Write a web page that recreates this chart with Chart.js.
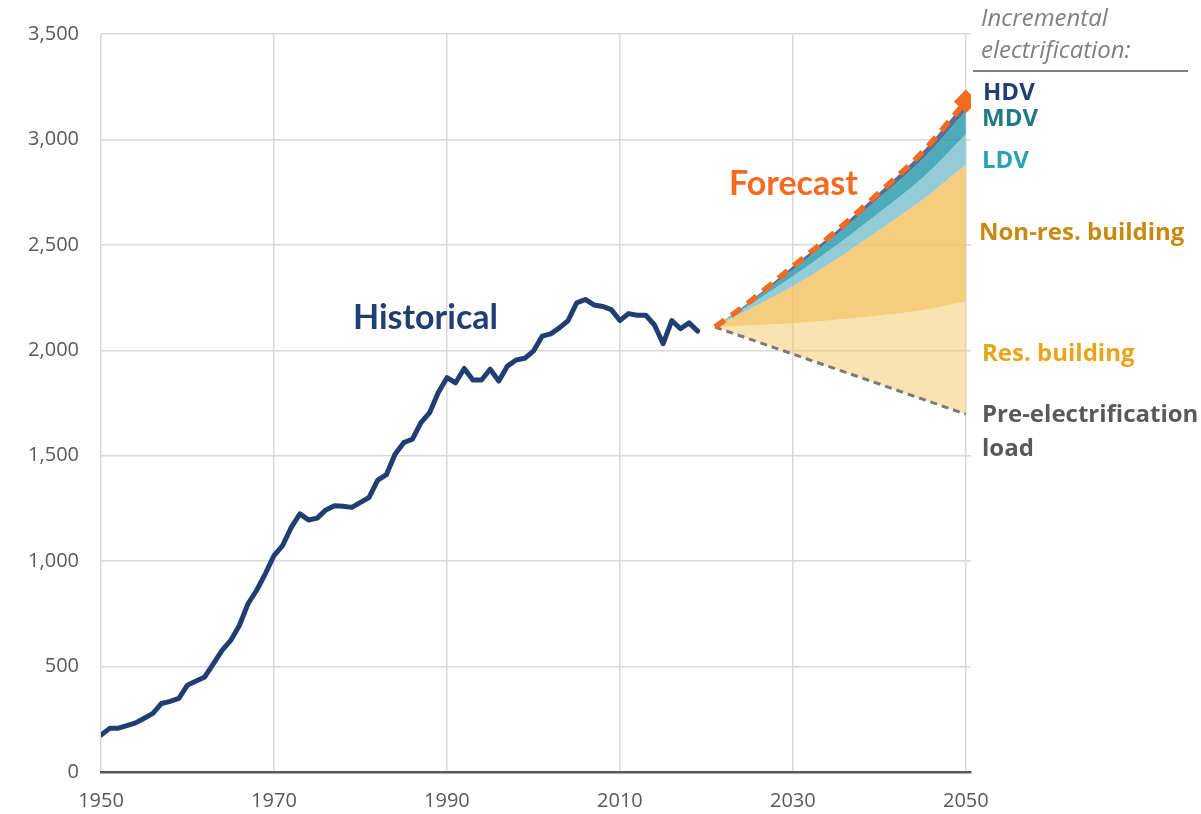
<!DOCTYPE html>
<html>
<head>
<meta charset="utf-8">
<title>Load forecast</title>
<script src="https://cdn.jsdelivr.net/npm/chart.js@4.4.1/dist/chart.umd.min.js"></script>
<style>
  html, body { margin: 0; padding: 0; background: #fff; }
  #wrap { width: 1201px; height: 814px; }
</style>
</head>
<body>
<div id="wrap"><canvas id="loadChart" width="1201" height="814"></canvas></div>
<script>
// --- datos ---

const histYears = [
  1950, 1951, 1952, 1953, 1954, 1955, 1956, 1957, 1958, 1959,
  1960, 1961, 1962, 1963, 1964, 1965, 1966, 1967, 1968, 1969,
  1970, 1971, 1972, 1973, 1974, 1975, 1976, 1977, 1978, 1979,
  1980, 1981, 1982, 1983, 1984, 1985, 1986, 1987, 1988, 1989,
  1990, 1991, 1992, 1993, 1994, 1995, 1996, 1997, 1998, 1999,
  2000, 2001, 2002, 2003, 2004, 2005, 2006, 2007, 2008, 2009,
  2010, 2011, 2012, 2013, 2014, 2015, 2016, 2017, 2018, 2019
];
const historical = [
  175, 207, 208, 220, 233, 255, 278, 325, 335, 349,
  412, 432, 451, 514, 577, 624, 695, 798, 862, 940,
  1026, 1074, 1160, 1224, 1195, 1204, 1243, 1263, 1260, 1255,
  1279, 1302, 1384, 1410, 1507, 1562, 1578, 1657, 1704, 1800,
  1870, 1846, 1914, 1859, 1859, 1910, 1854, 1925, 1954, 1962,
  1996, 2067, 2078, 2106, 2140, 2225, 2241, 2215, 2208, 2193,
  2141, 2174, 2166, 2166, 2120, 2031, 2141, 2102, 2130, 2091
];

// forecast: base + incrementos apilados
const fcYears = [2021, 2025, 2030, 2035, 2040, 2045, 2050];
const preElectrification = [2110, 2053, 1982, 1911, 1840, 1768, 1697];
const resBuilding = [0, 65, 145, 234, 325, 422, 536];
const nonResBuilding = [0, 77, 177, 285, 406, 525, 647];
const ldv = [0, 20, 47, 67, 82, 103, 145];
const mdv = [0, 10, 31, 48, 70, 88, 110];
const hdv = [0, 5, 16, 20, 25, 35, 45];

const xTicks = [1950, 1970, 1990, 2010, 2030, 2050];
const yTicks = [0, 500, 1000, 1500, 2000, 2500, 3000, 3500];

// --- helpers ---

const toPoints = (xs, ys) => xs.map((x, i) => ({ x: x, y: ys[i] }));

// suma acumulada de las capas
const addLayers = (...layers) => layers[0].map((_, i) => layers.reduce((s, l) => s + l[i], 0));

const resTop = addLayers(preElectrification, resBuilding);
const nonResTop = addLayers(resTop, nonResBuilding);
const ldvTop = addLayers(nonResTop, ldv);
const mdvTop = addLayers(ldvTop, mdv);
const totalLoad = addLayers(mdvTop, hdv);

// textos del gráfico
const chartLabels = [
  { text: 'Historical', x: 353, y: 318, color: '#1f3f73', font: 'bold 34px Lato' },
  { text: 'Forecast', x: 729, y: 184, color: '#f26b21', font: 'bold 34px Lato' },
  { text: 'Incremental', x: 981, y: 19, color: '#808080', font: 'italic 24px "Open Sans"' },
  { text: 'electrification:', x: 981, y: 51, color: '#808080', font: 'italic 24px "Open Sans"' },
  { text: 'HDV', x: 983, y: 93, color: '#1f3f73', font: 'bold 24px "Open Sans"' },
  { text: 'MDV', x: 982, y: 119, color: '#1e7a84', font: 'bold 24px "Open Sans"' },
  { text: 'LDV', x: 982, y: 161, color: '#2aa1b6', font: 'bold 24px "Open Sans"' },
  { text: 'Non-res. building', x: 979, y: 233, color: '#c8890e', font: 'bold 24px "Open Sans"' },
  { text: 'Res. building', x: 982, y: 354, color: '#e8a41a', font: 'bold 24px "Open Sans"' },
  { text: 'Pre-electrification', x: 982, y: 415, color: '#595959', font: 'bold 24px "Open Sans"' },
  { text: 'load', x: 982, y: 449, color: '#595959', font: 'bold 24px "Open Sans"' }
];

const textPlugin = {
  id: 'chartText',
  afterDraw(chart) {
    const ctx = chart.ctx;
    ctx.save();
    ctx.textBaseline = 'middle';
    ctx.textAlign = 'left';
    chartLabels.forEach(l => {
      ctx.font = l.font;
      ctx.fillStyle = l.color;
      ctx.fillText(l.text, l.x, l.y);
    });
    // línea bajo "Incremental electrification:"
    ctx.strokeStyle = '#7f7f7f';
    ctx.lineWidth = 2;
    ctx.beginPath();
    ctx.moveTo(973, 71);
    ctx.lineTo(1188, 71);
    ctx.stroke();
    ctx.restore();
  }
};

const bandLine = (data, fillTarget, color) => ({
  data: data,
  borderWidth: 0,
  pointRadius: 0,
  backgroundColor: color,
  fill: { target: fillTarget },
  cubicInterpolationMode: 'monotone'
});

const lastOnly = (n, r) => fcYears.map((_, i) => i === n - 1 ? r : 0);

new Chart(document.getElementById('loadChart'), {
  type: 'line',
  data: {
    datasets: [
      { // 0 historical
        data: toPoints(histYears, historical),
        borderColor: '#1f3f73',
        borderWidth: 5,
        borderJoinStyle: 'round',
        borderCapStyle: 'round',
        pointRadius: 0,
        fill: false,
        tension: 0
      },
      { // 1 total
        data: toPoints(fcYears, totalLoad),
        borderColor: '#f26b21',
        borderWidth: 5.5,
        borderDash: [12, 8],
        pointRadius: lastOnly(fcYears.length, 8),
        pointStyle: 'rectRot',
        pointBackgroundColor: '#f26b21',
        pointBorderColor: '#f26b21',
        fill: false,
        cubicInterpolationMode: 'monotone'
      },
      { // 2 pre-electrification
        data: toPoints(fcYears, preElectrification),
        borderColor: '#7a7a7a',
        borderWidth: 3,
        borderDash: [7, 5],
        pointRadius: 0,
        fill: false,
        tension: 0
      },
      bandLine(toPoints(fcYears, totalLoad), 4, 'rgba(70, 95, 135, 0.9)'),     // 3 HDV
      bandLine(toPoints(fcYears, mdvTop), 5, 'rgba(47, 156, 173, 0.85)'),      // 4 MDV
      bandLine(toPoints(fcYears, ldvTop), 6, 'rgba(120, 191, 204, 0.8)'),      // 5 LDV
      bandLine(toPoints(fcYears, nonResTop), 7, 'rgba(244, 193, 93, 0.8)'),    // 6 non-res
      bandLine(toPoints(fcYears, resTop), 2, 'rgba(243, 199, 97, 0.5)')        // 7 res
    ]
  },
  options: {
    responsive: false,
    animation: false,
    events: [],
    layout: { padding: { top: 32, right: 230, left: 0, bottom: 0 } },
    plugins: {
      legend: { display: false },
      tooltip: { enabled: false },
      title: { display: false }
    },
    scales: {
      x: {
        type: 'linear',
        min: 1950,
        max: 2050.6,
        afterBuildTicks: (scale) => { scale.ticks = xTicks.map(v => ({ value: v })); },
        afterFit: (scale) => { scale.height = 42; },
        grid: { color: '#d9d9d9', lineWidth: 1.5, drawTicks: false },
        border: { color: '#595959', width: 2.5 },
        ticks: {
          padding: 17,
          maxRotation: 0,
          color: '#595959',
          font: { family: 'Open Sans', size: 20 },
          callback: (v) => String(v)
        }
      },
      y: {
        min: 0,
        max: 3500,
        afterBuildTicks: (scale) => { scale.ticks = yTicks.map(v => ({ value: v })); },
        afterFit: (scale) => { scale.width = 101; },
        grid: { color: '#d9d9d9', lineWidth: 1.5, drawTicks: false },
        border: { display: false },
        ticks: {
          padding: 22,
          color: '#595959',
          font: { family: 'Open Sans', size: 20 },
          callback: (v) => v.toLocaleString('en-US')
        }
      }
    }
  },
  plugins: [textPlugin]
});
</script>
</body>
</html>
